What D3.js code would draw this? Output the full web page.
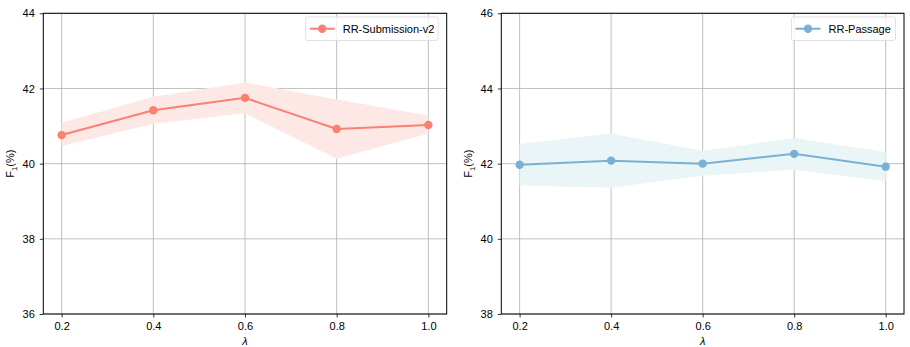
<!DOCTYPE html>
<html>
<head>
<meta charset="utf-8">
<script src="https://cdn.jsdelivr.net/npm/d3@7"></script>
<style>
body { margin: 0; background: #fff; }
text { font-family: "Liberation Sans", Arial, sans-serif; }
</style>
</head>
<body>
<div id="chart-area"></div>
<script>
// data
var lambdas = [0.2, 0.4, 0.6, 0.8, 1.0];
var xTicks = [0.2, 0.4, 0.6, 0.8, 1.0];

var subMean = [40.76, 41.42, 41.75, 40.92, 41.03];
var subUpper = [41.09, 41.78, 42.16, 41.71, 41.28];
var subLower = [40.47, 41.06, 41.34, 40.13, 40.80];
var subTicks = [36, 38, 40, 42, 44];

var pasMean = [41.97, 42.08, 42.00, 42.26, 41.92];
var pasUpper = [42.52, 42.80, 42.34, 42.68, 42.31];
var pasLower = [41.42, 41.36, 41.68, 41.84, 41.53];
var pasTicks = [38, 40, 42, 44, 46];

var W = 910, H = 347;
var fs = "11px";

var svg = d3.select("#chart-area").append("svg")
    .attr("width", W)
    .attr("height", H);

function panel(opts) {
    var left = opts.left, right = opts.right, top = 13.3, bottom = 314;

    var x = d3.scaleLinear().domain([0.16, 1.04]).range([left, right]);
    var y = d3.scaleLinear().domain(opts.yDomain).range([bottom, top]);

    var g = svg.append("g");

    // grid
    g.selectAll(".vgrid").data(xTicks).enter().append("line")
        .attr("x1", (d) => x(d)).attr("x2", (d) => x(d))
        .attr("y1", top).attr("y2", bottom)
        .attr("stroke", "#b0b0b0").attr("stroke-width", 0.8);
    g.selectAll(".hgrid").data(opts.yTicks).enter().append("line")
        .attr("x1", left).attr("x2", right)
        .attr("y1", (d) => y(d)).attr("y2", (d) => y(d))
        .attr("stroke", "#b0b0b0").attr("stroke-width", 0.8);

    var data = lambdas.map((l, i) => ({l: l, m: opts.mean[i], lo: opts.lower[i], hi: opts.upper[i]}));

    // band
    var area = d3.area()
        .x((d) => x(d.l))
        .y0((d) => y(d.lo))
        .y1((d) => y(d.hi));
    g.append("path").datum(data)
        .attr("fill", opts.fill)
        .attr("d", area);

    // line
    var line = d3.line().x((d) => x(d.l)).y((d) => y(d.m));
    g.append("path").datum(data)
        .attr("fill", "none")
        .attr("stroke", opts.color)
        .attr("stroke-width", 2)
        .attr("d", line);
    g.selectAll(".pt").data(data).enter().append("circle")
        .attr("cx", (d) => x(d.l)).attr("cy", (d) => y(d.m))
        .attr("r", 4.2).attr("fill", opts.color);

    // axes
    var xAxis = g.append("g")
        .attr("transform", "translate(0," + bottom + ")")
        .call(d3.axisBottom(x).tickValues(xTicks).tickFormat(d3.format(".1f")).tickSizeOuter(0).tickSize(3.5).tickPadding(5));
    var yAxis = g.append("g")
        .attr("transform", "translate(" + left + ",0)")
        .call(d3.axisLeft(y).tickValues(opts.yTicks).tickSizeOuter(0).tickSize(3.5).tickPadding(5));
    [xAxis, yAxis].forEach((a) => {
        a.select(".domain").remove();
        a.selectAll("text").attr("font-size", fs).attr("fill", "#000")
            .attr("font-family", "Liberation Sans, Arial, sans-serif");
        a.selectAll("line").attr("stroke", "#000").attr("stroke-width", 0.8);
    });

    // frame
    g.append("rect")
        .attr("x", left).attr("y", top)
        .attr("width", right - left).attr("height", bottom - top)
        .attr("fill", "none").attr("stroke", "#000").attr("stroke-width", 1);

    // axis labels
    g.append("text")
        .attr("x", (left + right) / 2).attr("y", 344.5)
        .attr("text-anchor", "middle")
        .attr("font-size", fs)
        .attr("font-style", "italic")
        .text("λ");
    var yl = g.append("text")
        .attr("transform", "translate(" + (left - 29) + "," + ((top + bottom) / 2) + ") rotate(-90)")
        .attr("text-anchor", "middle")
        .attr("font-size", fs);
    yl.append("tspan").text("F");
    yl.append("tspan").attr("font-size", "7.7px").attr("dy", 2.5).text("1");
    yl.append("tspan").attr("dy", -2.5).text("(%)");

    // legend
    var lw = opts.legendW;
    var lx = right - 8.5 - lw, ly = 17;
    var lg = g.append("g");
    lg.append("rect")
        .attr("x", lx).attr("y", ly).attr("width", lw).attr("height", 23.5)
        .attr("rx", 2)
        .attr("fill", "#fff").attr("fill-opacity", 0.8)
        .attr("stroke", "#d9d9d9").attr("stroke-width", 0.8);
    lg.append("line")
        .attr("x1", lx + 4).attr("x2", lx + 29)
        .attr("y1", ly + 11.75).attr("y2", ly + 11.75)
        .attr("stroke", opts.color).attr("stroke-width", 2);
    lg.append("circle")
        .attr("cx", lx + 16.5).attr("cy", ly + 11.75).attr("r", 4.2)
        .attr("fill", opts.color);
    lg.append("text")
        .attr("x", lx + 37).attr("y", ly + 15.8)
        .attr("font-size", fs)
        .text(opts.label);
}

panel({
    left: 43.3, right: 446.7,
    yDomain: [36, 44], yTicks: subTicks,
    mean: subMean, upper: subUpper, lower: subLower,
    color: "#fa8072", fill: "#fde8e6",
    label: "RR-Submission-v2", legendW: 132.5
});

panel({
    left: 501.3, right: 904,
    yDomain: [38, 46], yTicks: pasTicks,
    mean: pasMean, upper: pasUpper, lower: pasLower,
    color: "#7bafd4", fill: "#eaf5f8",
    label: "RR-Passage", legendW: 104
});
</script>
</body>
</html>
